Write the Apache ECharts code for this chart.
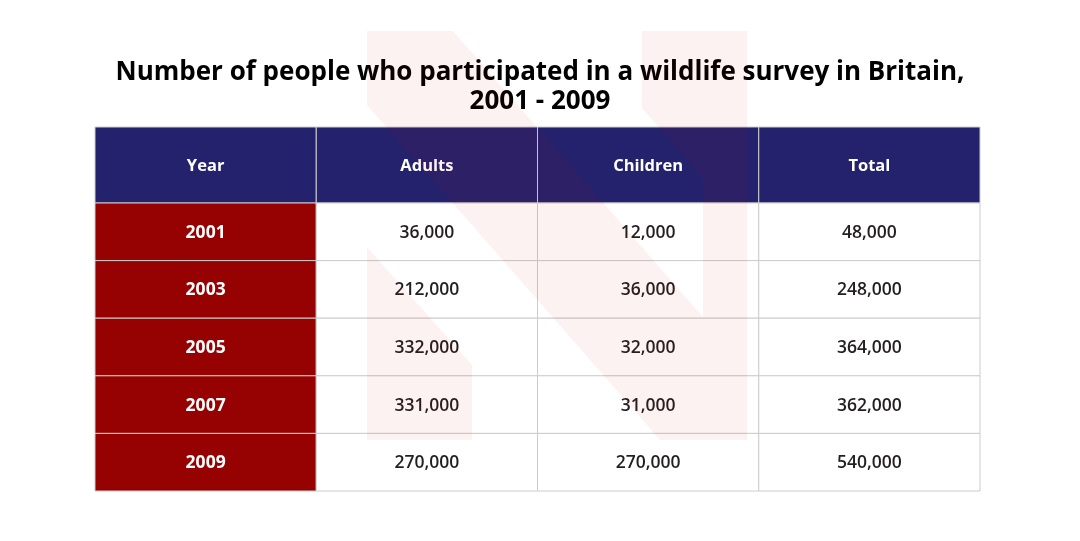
<!DOCTYPE html>
<html>
<head>
<meta charset="utf-8">
<script src="https://cdn.jsdelivr.net/npm/echarts@6/dist/echarts.min.js"></script>
<style>
html,body{margin:0;padding:0;background:#fff;}
#main{width:1080px;height:541px;}
</style>
</head>
<body>
<div id="main"></div>
<script>
const headers = ['Year', 'Adults', 'Children', 'Total'];
const years = ['2001', '2003', '2005', '2007', '2009'];
const adults = [36000, 212000, 332000, 331000, 270000];
const children = [12000, 36000, 32000, 31000, 270000];
const totals = [48000, 248000, 364000, 362000, 540000];
const titleLines = ['Number of people who participated in a wildlife survey in Britain,', '2001 - 2009'];

const fmt = v => v.toLocaleString('en-US');
const FONT = '"Open Sans", "Noto Sans", sans-serif';

const headerData = headers.map((h, j) => [j, 0, h]);
const bodyData = [];
years.forEach((yr, i) => {
  bodyData.push([0, i, yr]);
  bodyData.push([1, i, fmt(adults[i])]);
  bodyData.push([2, i, fmt(children[i])]);
  bodyData.push([3, i, fmt(totals[i])]);
});

function cellRenderer(kind) {
  const src = kind === 'header' ? headerData : bodyData;
  return function (params, api) {
    const col = api.value(0), row = api.value(1);
    const text = src[params.dataIndex][2];
    const c = api.coord([col, row]);
    const s = api.size([1, 1]);
    let fill = '#ffffff', color = '#231f20', weight = 600, size = 17.5;
    if (kind === 'header') { fill = '#24226c'; color = '#ffffff'; weight = 700; size = 16.5; }
    else if (col === 0) { fill = '#960202'; color = '#ffffff'; weight = 700; size = 17.5; }
    return {
      type: 'group',
      children: [
        { type: 'rect',
          shape: { x: c[0] - s[0] / 2, y: c[1] - s[1] / 2, width: s[0], height: s[1] },
          style: { fill: fill, stroke: '#cccccc', lineWidth: 1 } },
        { type: 'text',
          style: { text: text, x: c[0], y: c[1] + 1, align: 'center', verticalAlign: 'middle',
                   fill: color, font: weight + ' ' + size + 'px ' + FONT } }
      ]
    };
  };
}

const chart = echarts.init(document.getElementById('main'), null, { renderer: 'canvas' });
chart.setOption({
  backgroundColor: '#ffffff',
  animation: false,
  title: [
    { text: titleLines[0], left: 'center', top: 55,
      textStyle: { fontFamily: FONT, fontSize: 26, fontWeight: 700, color: '#000000' } },
    { text: titleLines[1], left: 'center', top: 84,
      textStyle: { fontFamily: FONT, fontSize: 26, fontWeight: 700, color: '#000000' } }
  ],
  grid: [
    { left: 95, right: 100, top: 127, height: 76 },
    { left: 95, right: 100, top: 203, height: 288 }
  ],
  xAxis: [
    { type: 'category', gridIndex: 0, data: headers, show: false },
    { type: 'category', gridIndex: 1, data: headers, show: false }
  ],
  yAxis: [
    { type: 'category', gridIndex: 0, data: ['h'], show: false },
    { type: 'category', gridIndex: 1, data: years, inverse: true, show: false }
  ],
  series: [
    { type: 'custom', xAxisIndex: 0, yAxisIndex: 0, data: headerData,
      renderItem: cellRenderer('header'), silent: true },
    { type: 'custom', xAxisIndex: 1, yAxisIndex: 1, data: bodyData,
      renderItem: cellRenderer('body'), silent: true }
  ],
  graphic: [
    { type: 'polygon', silent: true, z: 100,
      shape: { points: [[367,31],[453,31],[703,317],[703,178],[642,108],[642,31],[747,31],[747,440],[660,440],[367,105]] },
      style: { fill: 'rgba(210,0,0,0.05)' } },
    { type: 'polygon', silent: true, z: 100,
      shape: { points: [[367,247],[472,365],[472,440],[367,440]] },
      style: { fill: 'rgba(210,0,0,0.05)' } }
  ]
});
</script>
</body>
</html>
